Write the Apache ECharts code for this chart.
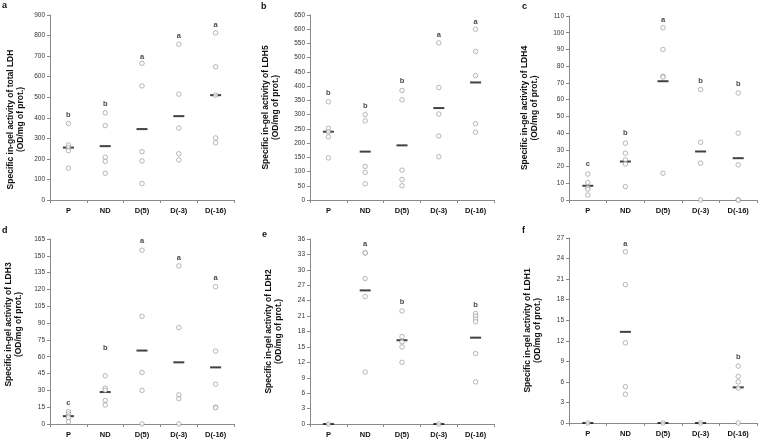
<!DOCTYPE html>
<html>
<head>
<meta charset="utf-8">
<script src="https://cdn.jsdelivr.net/npm/echarts@6/dist/echarts.min.js"></script>
<style>
  html, body { margin: 0; padding: 0; background: #fff; }
  #chart { width: 758px; height: 439px; }
</style>
</head>
<body>
<div id="chart"></div>
<script>
const categories = ['P', 'ND', 'D(5)', 'D(-3)', 'D(-16)']

// panel a - total LDH
const ptsA = [[372, 268, 255, 240, 155], [424, 362, 208, 188, 130], [665, 555, 235, 190, 80], [758, 515, 350, 225, 195], [813, 648, 510, 302, 278]]
const meanA = [255, 262, 345, 408, 510]
const letA = ['b', 'b', 'a', 'a', 'a']
const letPosA = [413, 467, 694, 799, 854]

// panel b - LDH5
const ptsB = [[345, 252, 240, 222, 148], [300, 278, 118, 97, 57], [385, 352, 105, 72, 50], [552, 395, 302, 225, 152], [600, 522, 437, 268, 238]]
const meanB = [240, 170, 192, 323, 413]
const letB = ['b', 'b', 'b', 'a', 'a']
const letPosB = [375, 330, 418, 580, 626]

// panel c - LDH4
const ptsC = [[15.5, 10.5, 7.5, 6.5, 3], [34, 28, 24, 21.5, 8], [103, 90, 74, 73.5, 16], [66, 34.5, 22, 0], [64, 40, 21, 0, 0]]
const meanC = [8.5, 23, 71, 29, 25]
const letC = ['c', 'b', 'a', 'b', 'b']
const letPosC = [21.3, 39.8, 107.8, 71, 69.2]

// panel d - LDH3
const ptsD = [[11, 9, 7, 5.5, 2], [43, 32, 30, 21, 17], [155, 96, 46, 30, 0], [141, 86, 26, 22.5, 0], [122.5, 65, 35.5, 15, 14.5]]
const meanD = [7, 28.5, 65.5, 55, 50.5]
const letD = ['c', 'b', 'a', 'a', 'a']
const letPosD = [19, 68, 163, 148, 130]

// panel e - LDH2
const ptsE = [[0], [33.3, 33.3, 28.3, 24.8, 10.1], [22, 17, 16, 15, 12], [0], [21.5, 21, 20.4, 19.9, 13.7, 8.2]]
const meanE = [0, 26, 16.3, 0, 16.8]
const letE = ['', 'a', 'b', '', 'b']
const letPosE = [null, 35, 23.8, null, 23.2]

// panel f - LDH1
const ptsF = [[0], [25, 20.2, 11.7, 5.3, 4.2], [0], [0], [8.3, 6.8, 6.0, 5.1, 0]]
const meanF = [0, 13.3, 0, 0, 5.2]
const letF = ['', 'a', '', '', 'b']
const letPosF = [null, 26.1, null, null, 9.7]

const FONT = "'Liberation Sans', Arial, sans-serif"
const AXIS_COLOR = '#8a8a8a'

// shift > 0 moves the axis title down, < 0 moves it up
const panels = [
  { tag: 'a', pts: ptsA, mean: meanA, let: letA, letPos: letPosA, max: 900, step: 100, title: 'Specific in-gel activity of total LDH\n(OD/mg of prot.)', grid: { left: 50, top: 15, width: 184, height: 185 }, gap: 25, shift: 24, tagPos: [2, 1] },
  { tag: 'b', pts: ptsB, mean: meanB, let: letB, letPos: letPosB, max: 650, step: 50, title: 'Specific in-gel activity of LDH5\n(OD/mg of prot.)', grid: { left: 310, top: 15, width: 184, height: 185 }, gap: 30, shift: 0, tagPos: [261, 2] },
  { tag: 'c', pts: ptsC, mean: meanC, let: letC, letPos: letPosC, max: 110, step: 10, title: 'Specific in-gel activity of LDH4\n(OD/mg of prot.)', grid: { left: 569, top: 16, width: 188, height: 184 }, gap: 30, shift: 0, tagPos: [522, 2] },
  { tag: 'd', pts: ptsD, mean: meanD, let: letD, letPos: letPosD, max: 165, step: 15, title: 'Specific in-gel activity of LDH3\n(OD/mg of prot.)', grid: { left: 50, top: 239, width: 184, height: 185 }, gap: 27, shift: -14, tagPos: [2, 226] },
  { tag: 'e', pts: ptsE, mean: meanE, let: letE, letPos: letPosE, max: 36, step: 3, title: 'Specific in-gel activity of LDH2\n(OD/mg of prot.)', grid: { left: 310, top: 239, width: 184, height: 185 }, gap: 27, shift: 0, tagPos: [262, 230] },
  { tag: 'f', pts: ptsF, mean: meanF, let: letF, letPos: letPosF, max: 27, step: 3, title: 'Specific in-gel activity of LDH1\n(OD/mg of prot.)', grid: { left: 569, top: 238, width: 188, height: 185 }, gap: 27, shift: 0, tagPos: [522, 226] }
]

const grids = []
const xAxes = []
const yAxes = []
const series = []
const graphics = []

panels.forEach((p, i) => {
  grids.push(p.grid)
  xAxes.push({
    type: 'category',
    gridIndex: i,
    data: categories,
    axisLine: { lineStyle: { color: AXIS_COLOR, width: 1 } },
    axisTick: { show: true, length: 3, lineStyle: { color: AXIS_COLOR } },
    axisLabel: { interval: 0, margin: 7, fontSize: 7.5, fontWeight: 'bold', color: '#111', fontFamily: FONT },
    splitLine: { show: false }
  })
  yAxes.push({
    type: 'value',
    gridIndex: i,
    min: 0,
    max: p.max,
    interval: p.step,
    name: p.title,
    nameLocation: 'middle',
    nameRotate: 90,
    nameGap: p.gap,
    nameTextStyle: {
      fontSize: 8.5, fontWeight: 'bold', color: '#111', lineHeight: 9.5, fontFamily: FONT,
      padding: [0, Math.max(p.shift, 0), 0, Math.max(-p.shift, 0)]
    },
    axisLine: { show: true, lineStyle: { color: AXIS_COLOR, width: 1 } },
    axisTick: { show: true, length: 3, lineStyle: { color: AXIS_COLOR } },
    axisLabel: { fontSize: 6.5, color: '#333', margin: 5, fontFamily: FONT },
    splitLine: { show: false }
  })

  // mean bars
  series.push({
    type: 'scatter',
    xAxisIndex: i,
    yAxisIndex: i,
    symbol: 'rect',
    symbolSize: [11, 2],
    itemStyle: { color: '#111' },
    z: 2,
    clip: false,
    silent: true,
    data: p.mean.map((v, k) => [k, v])
  })

  // individual values
  const dots = []
  p.pts.forEach((arr, k) => arr.forEach(v => dots.push([k, v])))
  series.push({
    type: 'scatter',
    xAxisIndex: i,
    yAxisIndex: i,
    symbol: 'circle',
    symbolSize: 4.5,
    itemStyle: { color: '#fff', borderColor: '#808080', borderWidth: 0.7 },
    z: 3,
    clip: false,
    silent: true,
    data: dots
  })

  // significance letters
  const lets = []
  p.let.forEach((t, k) => { if (t) lets.push({ value: [k, p.letPos[k]], name: t }) })
  series.push({
    type: 'scatter',
    xAxisIndex: i,
    yAxisIndex: i,
    symbolSize: 1,
    itemStyle: { color: 'rgba(0,0,0,0)' },
    z: 4,
    clip: false,
    silent: true,
    label: {
      show: true,
      position: 'inside',
      formatter: d => d.name,
      fontSize: 7.5,
      fontWeight: 'bold',
      color: '#111',
      fontFamily: FONT
    },
    data: lets
  })

  graphics.push({
    type: 'text',
    left: p.tagPos[0],
    top: p.tagPos[1],
    style: { text: p.tag, fontSize: 9, fontWeight: 'bold', fill: '#111', fontFamily: FONT }
  })
})

const chart = echarts.init(document.getElementById('chart'), null, { renderer: 'canvas' })
chart.setOption({
  animation: false,
  backgroundColor: '#fff',
  textStyle: { fontFamily: FONT },
  grid: grids,
  xAxis: xAxes,
  yAxis: yAxes,
  series,
  graphic: graphics
})
</script>
</body>
</html>
